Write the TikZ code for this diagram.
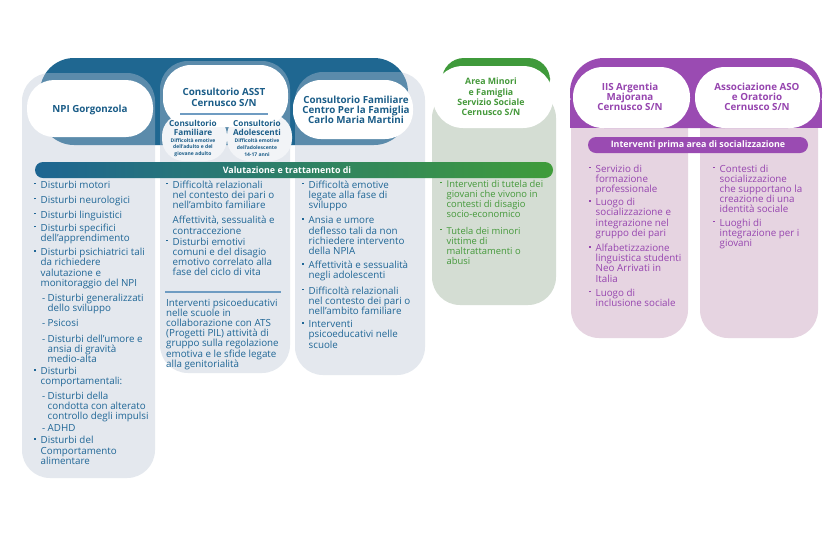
\documentclass[tikz,border=0pt]{standalone}
\usepackage{fontspec}
\setmainfont{Open Sans}
\definecolor{bandblue}{HTML}{1F6791}
\definecolor{colg}{HTML}{BAC4D4}
\definecolor{titleblue}{HTML}{1B5D88}
\definecolor{textblue}{HTML}{1F6696}
\definecolor{linebl}{HTML}{6F9CC2}
\definecolor{gband}{HTML}{3F9A3B}
\definecolor{gcol}{HTML}{D4DDD3}
\definecolor{gtext}{HTML}{45993B}
\definecolor{pband}{HTML}{9A4BB2}
\definecolor{pcol}{HTML}{E6D4E1}
\definecolor{ptext}{HTML}{9645AF}
\definecolor{barL}{HTML}{1D6592}
\definecolor{barR}{HTML}{3F9C3A}
\definecolor{subov}{HTML}{F2F4F7}
\newcommand\mybul{\makebox[6.5pt][l]{\raisebox{4pt}{\rule{1.4pt}{1.4pt}}}}
\newcommand\mycont{\hspace*{6.5pt}}
\newcommand\mysubd{\hspace*{8pt}\makebox[5.5pt][l]{-}}
\newcommand\mysubc{\hspace*{13.5pt}}
\begin{document}
\begin{tikzpicture}[x=1pt,y=-1pt,
  title/.style={align=center,inner sep=0pt,font=\fontsize{9.8}{10.8}\selectfont\bfseries,text=titleblue},
  body/.style={align=left,inner sep=0pt,anchor=north west,font=\fontsize{9.8}{10.2}\selectfont,text=textblue},
  bartext/.style={inner sep=0pt,font=\fontsize{8.9}{10}\selectfont\bfseries,text=white}]
\useasboundingbox (0,0) rectangle (840,542);
\fill[white] (0,0) rectangle (840,542);
% blue band and columns
\fill[bandblue,rounded corners=34] (40,58) rectangle (408,145);
\fill[colg,fill opacity=.39,rounded corners=28] (22,73) rectangle (155,478);
\fill[colg,fill opacity=.39,rounded corners=28] (160,61) rectangle (290,373);
\fill[colg,fill opacity=.39,rounded corners=28] (295,72) rectangle (425,375);
% green
\fill[gcol,rounded corners=28] (432,90) rectangle (556,305);
\fill[gband,rounded corners=22] (442,58) rectangle (550,100);
\fill[white,rounded corners=30] (433,66) rectangle (553,128);
% purple
\fill[pcol,rounded corners=28] (571,90) rectangle (688,338);
\fill[pcol,rounded corners=28] (700,90) rectangle (818,338);
\fill[pband,rounded corners=34] (570,58) rectangle (822,128);
\fill[pband] (570,100) rectangle (822,128);
\fill[white,rounded corners=30] (573,67) rectangle (690,128);
\fill[white,rounded corners=30] (695,67) rectangle (820,128);
\fill[pband,rounded corners=8] (588,137) rectangle (808,153);
% blue pills
\fill[white,rounded corners=27] (27,80) rectangle (153,137);
\fill[white,rounded corners=28] (293,80) rectangle (413,139);
\fill[subov,rounded corners=22] (162,114) rectangle (227,161);
\fill[subov,rounded corners=22] (227,114) rectangle (292,161);
\fill[white,rounded corners=28] (163,65) rectangle (288,127);
\draw[linebl,line width=1.2pt] (180,114) -- (268,114);
% bar
\shade[left color=barL,right color=barR,rounded corners=8] (35,162) rectangle (553,178);
\draw[linebl,line width=1.5pt] (165,292) -- (281,292);
% titles
\node[title] (npi) at (90,110) {NPI Gorgonzola};
\node[title] (asst) at (224,97) {Consultorio ASST\\Cernusco S/N};
\node[title,font=\fontsize{8.2}{8.2}\selectfont\bfseries] (cfam) at (193,128) {Consultorio\\Familiare};
\node[title,font=\fontsize{5}{6.8}\selectfont\bfseries] (cfamt) at (193,147.5) {Difficoltà emotive\\dell’adulto e del\\giovane adulto};
\node[title,font=\fontsize{8.2}{8.2}\selectfont\bfseries] (cado) at (257,128) {Consultorio\\Adolescenti};
\node[title,font=\fontsize{5}{6.8}\selectfont\bfseries] (cadot) at (257,147.5) {Difficoltà emotive\\dell’adolescente\\14-17 anni};
\node[title,font=\fontsize{9.8}{10}\selectfont\bfseries] (cfm) at (356,110) {Consultorio Familiare\\Centro Per la Famiglia\\Carlo Maria Martini};
\node[title,text=gtext,font=\fontsize{8.8}{10.4}\selectfont\bfseries] (amf) at (491,97) {Area Minori\\e Famiglia\\Servizio Sociale\\Cernusco S/N};
\node[title,text=ptext,font=\fontsize{9.8}{10}\selectfont\bfseries] (iis) at (630,97) {IIS Argentia\\Majorana\\Cernusco S/N};
\node[title,text=ptext,font=\fontsize{9.8}{10}\selectfont\bfseries] (aso) at (757,97) {Associazione ASO\\e Oratorio\\Cernusco S/N};
\node[bartext] (val) at (287,170) {Valutazione e trattamento di};
\node[bartext] (ipa) at (698,145) {Interventi prima area di socializzazione};
% bodies
\node[body] (b1) at (34,180.5) {\mybul Disturbi motori\\[5pt]
\mybul Disturbi neurologici\\[4.5pt]
\mybul Disturbi linguistici\\[3pt]
\mybul Disturbi specifici\\
\mycont dell’apprendimento\\[4pt]
\mybul Disturbi psichiatrici tali\\
\mycont da richiedere\\
\mycont valutazione e\\
\mycont monitoraggio del NPI\\[5pt]
\mysubd Disturbi generalizzati\\
\mysubc dello sviluppo\\[5pt]
\mysubd Psicosi\\[5pt]
\mysubd Disturbi dell’umore e\\
\mysubc ansia di gravità\\
\mysubc medio-alta\\[2pt]
\mybul Disturbi\\
\mycont comportamentali:\\[4pt]
\mysubd Disturbi della\\
\mysubc condotta con alterato\\
\mysubc controllo degli impulsi\\[2pt]
\mysubd ADHD\\[2pt]
\mybul Disturbi del\\
\mycont Comportamento\\
\mycont alimentare};
\node[body] (b2) at (166,180.5) {\mybul Difficoltà relazionali\\
\mycont nel contesto dei pari o\\
\mycont nell’ambito familiare\\[5pt]
\mycont Affettività, sessualità e\\
\mycont contraccezione\\[1pt]
\mybul Disturbi emotivi\\
\mycont comuni e del disagio\\
\mycont emotivo correlato alla\\
\mycont fase del ciclo di vita};
\node[body] (b2b) at (166,298.5) {Interventi psicoeducativi\\
nelle scuole in\\
collaborazione con ATS\\
(Progetti PIL) attività di\\
gruppo sulla regolazione\\
emotiva e le sfide legate\\
alla genitorialità};
\node[body] (b3) at (302,180.5) {\mybul Difficoltà emotive\\
\mycont legate alla fase di\\
\mycont sviluppo\\[5pt]
\mybul Ansia e umore\\
\mycont deflesso tali da non\\
\mycont richiedere intervento\\
\mycont della NPIA\\[4pt]
\mybul Affettività e sessualità\\
\mycont negli adolescenti\\[5pt]
\mybul Difficoltà relazionali\\
\mycont nel contesto dei pari o\\
\mycont nell’ambito familiare\\[3pt]
\mybul Interventi\\
\mycont psicoeducativi nelle\\
\mycont scuole};
\node[body,text=gtext,font=\fontsize{9.4}{10.2}\selectfont] (bg) at (440,180) {\mybul Interventi di tutela dei\\
\mycont giovani che vivono in\\
\mycont contesti di disagio\\
\mycont socio-economico\\[6pt]
\mybul Tutela dei minori\\
\mycont vittime di\\
\mycont maltrattamenti o\\
\mycont abusi};
\node[body,text=ptext] (bpa) at (589,164.5) {\mybul Servizio di\\
\mycont formazione\\
\mycont professionale\\[3pt]
\mybul Luogo di\\
\mycont socializzazione e\\
\mycont integrazione nel\\
\mycont gruppo dei pari\\[5pt]
\mybul Alfabetizzazione\\
\mycont linguistica studenti\\
\mycont Neo Arrivati in\\
\mycont Italia\\[4pt]
\mybul Luogo di\\
\mycont inclusione sociale};
\node[body,text=ptext] (bpb) at (713,164.5) {\mybul Contesti di\\
\mycont socializzazione\\
\mycont che supportano la\\
\mycont creazione di una\\
\mycont identità sociale\\[3pt]
\mybul Luoghi di\\
\mycont integrazione per i\\
\mycont giovani};
\end{tikzpicture}
\end{document}
